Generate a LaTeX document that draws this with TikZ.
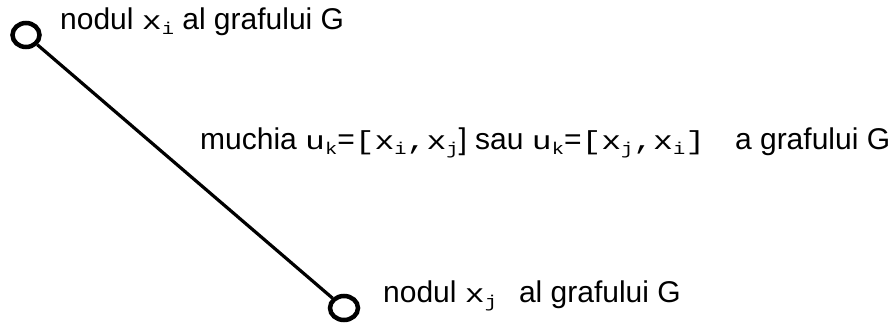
\documentclass[tikz,border=0pt]{standalone}
\usepackage{fontspec}
\usepackage{graphicx}
\setmainfont{Liberation Sans}
\newfontfamily\monof{Liberation Mono}
\usetikzlibrary{shapes.geometric}
% typewriter text, widened to Courier proportions, and a small lowered typewriter index
\newcommand\tw[1]{\scalebox{1.27}[1]{\monof\fontsize{26}{26}\selectfont #1}}
\newcommand\ix[1]{\raisebox{-5pt}{\scalebox{1.2}[1]{\monof\fontsize{17}{17}\selectfont #1}}}
\begin{document}
\begin{tikzpicture}[x=1pt,y=-1pt,
  vertex/.style={draw, line width=4.5pt, ellipse, minimum width=27pt, minimum height=24pt, inner sep=0pt},
  edge/.style={line width=3.2pt},
  lbl/.style={anchor=base west, inner sep=0pt, font=\fontsize{30}{32}\selectfont}]
\useasboundingbox (0,0) rectangle (893,324);
\node[vertex] (xi) at (26,35) {};
\node[vertex, minimum width=28pt] (xj) at (344,308) {};
\draw[edge] (xi) -- (xj);
\node[lbl] (ti) at (60,29) {nodul \tw{x}\ix{i} al grafului G};
\node[lbl] (tm) at (200,149) {muchia \tw{u}\ix{k}=\tw{[x}\ix{i}\tw{,x}\ix{j}] sau \tw{u}\ix{k}=\tw{[x}\ix{j}\tw{,x}\ix{i}\tw{]}\hspace{30pt}a grafului G};
\node[lbl] (tj) at (383,302) {nodul \tw{x}\ix{j}\hspace{22pt}al grafului G};
\end{tikzpicture}
\end{document}
